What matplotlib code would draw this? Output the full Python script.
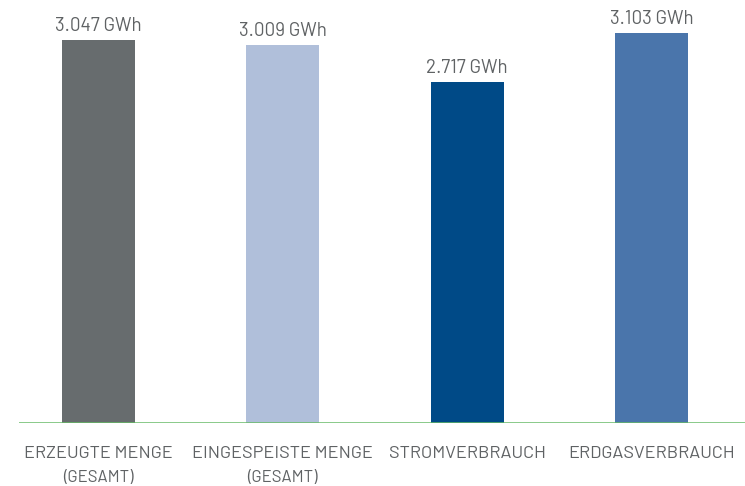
import matplotlib
matplotlib.use("Agg")
import matplotlib.pyplot as plt

categories = ["ERZEUGTE MENGE", "EINGESPEISTE MENGE", "STROMVERBRAUCH", "ERDGASVERBRAUCH"]
sublabels = ["(GESAMT)", "(GESAMT)", "", ""]
values = [3047, 3009, 2717, 3103]
value_labels = ["3.047 GWh", "3.009 GWh", "2.717 GWh", "3.103 GWh"]
colors = ["#676c6e", "#b0bfda", "#004a87", "#4a75ab"]

plt.rcParams["font.family"] = ["Barlow", "DejaVu Sans"]

W, H = 745, 486
fig = plt.figure(figsize=(W / 100, H / 100), dpi=100)
ax_left, ax_right, ax_base, ax_top = 19, 745, 423, 0
ax = fig.add_axes([ax_left / W, (H - ax_base) / H, (ax_right - ax_left) / W, (ax_base - ax_top) / H])

x = list(range(len(values)))
ax.bar(x, values, width=0.396, color=colors, zorder=2)
ymax = 3103 * (ax_base - ax_top) / (ax_base - 33)
ax.set_ylim(0, ymax)
ax.set_xlim(-0.431, 3.507)

txt = "#5f6264"
for xi, v, lab in zip(x, values, value_labels):
    ax.annotate(lab, (xi, v), xytext=(0, 6.3), textcoords="offset points",
                ha="center", va="baseline", fontsize=13.5, color=txt)

ax.axhline(0, color="#66ba66", lw=1.8, zorder=3)
for s in ax.spines.values():
    s.set_visible(False)
ax.set_yticks([])
ax.set_xticks(x)
ax.set_xticklabels([])
ax.tick_params(axis="x", length=0)
for xi, c, s in zip(x, categories, sublabels):
    ax.annotate(c, (xi, 0), xytext=(0, -25.2), textcoords="offset points",
                ha="center", va="baseline", fontsize=13.0, color=txt,
                annotation_clip=False)
    if s:
        ax.annotate(s, (xi, 0), xytext=(0, -42.5), textcoords="offset points",
                    ha="center", va="baseline", fontsize=12.0, color=txt,
                    annotation_clip=False)

fig.savefig("out.png", dpi=100)
